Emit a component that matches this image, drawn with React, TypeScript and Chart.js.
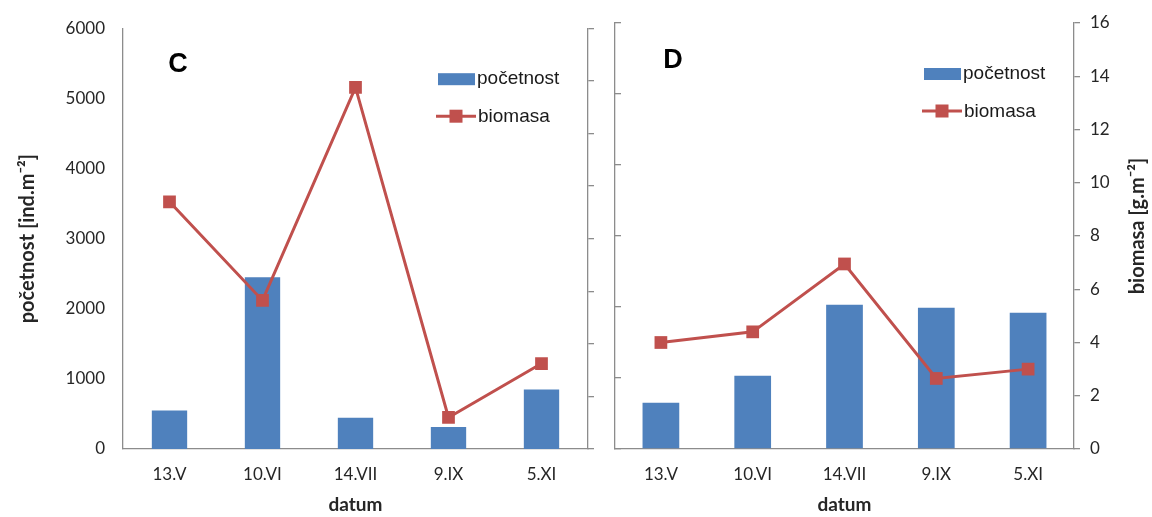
import React, { useEffect, useRef } from 'react';
import { Chart, registerables } from 'chart.js';

Chart.register(...registerables);

// ---------- data ----------
const categories = ['13.V', '10.VI', '14.VII', '9.IX', '5.XI'];
const abundanceC = [550, 2450, 445, 315, 850];
const biomassC = [9.4, 5.65, 13.75, 1.2, 3.25];
const abundanceD = [650, 1030, 2030, 1990, 1920];
const biomassD = [4.0, 4.4, 6.95, 2.65, 3.0];
const abundanceAxis = [0, 6000, 1000]; // min, max, step
const biomassAxis = [0, 16, 2]; // min, max, step
const seriesNames = ['početnost', 'biomasa'];
const panelLetters = ['C', 'D'];
const xTitle = 'datum';
const leftTitle = 'početnost [ind.m⁻²]';
const rightTitle = 'biomasa [g.m⁻²]';

// ---------- style ----------
const W = 1152;
const H = 517;
const BLUE = '#4F81BD';
const RED = '#C0504D';
const AXIS = '#8c8c8c';
const TEXT = '#262626';
const TICK_FONT = { family: 'Lato, "Open Sans", sans-serif', size: 17 };
const BOLD_FONT = { family: 'Lato, "Open Sans", sans-serif', size: 19, weight: 'bold' as const };

const overlayPlugin = {
  id: 'overlay',
  afterDraw(chart: any, _args: any, opts: any) {
    const { ctx, chartArea: ca } = chart;
    ctx.save();
    // panel letter
    ctx.fillStyle = '#000';
    ctx.font = `bold ${opts.letterSize}px "Liberation Sans", Arial, sans-serif`;
    ctx.textAlign = 'center';
    ctx.textBaseline = 'middle';
    ctx.fillText(opts.letter, ca.left + opts.letterDx, opts.letterY);

    // legend
    const ds = chart.data.datasets;
    const bar = ds.find((d: any) => d.type === 'bar');
    const line = ds.find((d: any) => d.type === 'line');
    const rx = ca.right + opts.legendDx;
    const y1 = ca.top + 51;
    const y2 = ca.top + 88;
    ctx.fillStyle = bar.backgroundColor;
    ctx.fillRect(rx, y1 - 6, 37, 12);
    ctx.strokeStyle = line.borderColor;
    ctx.lineWidth = 3;
    ctx.beginPath();
    ctx.moveTo(rx - 2, y2);
    ctx.lineTo(rx + 38, y2);
    ctx.stroke();
    ctx.fillStyle = line.pointBackgroundColor;
    ctx.fillRect(rx + 18 - 6.5, y2 - 6.5, 13, 13);
    ctx.fillStyle = '#1a1a1a';
    ctx.font = '19px "Liberation Sans", Arial, sans-serif';
    ctx.textAlign = 'left';
    ctx.textBaseline = 'middle';
    ctx.fillText(bar.label, rx + 39, y1);
    ctx.fillText(line.label, rx + 40, y2 + 1);

    // right axis title (reads bottom-to-top)
    if (opts.rightTitle) {
      ctx.translate(chart.width - 14, opts.rightTitleY);
      ctx.rotate(-Math.PI / 2);
      ctx.fillStyle = TEXT;
      ctx.font = `bold 20px Lato, "Open Sans", sans-serif`;
      ctx.textAlign = 'center';
      ctx.textBaseline = 'middle';
      ctx.fillText(opts.rightTitle, 0, 0);
    }
    ctx.restore();
  },
};

type PanelCfg = {
  abundance: number[];
  biomass: number[];
  letter: string;
  letterDx: number;
  letterY: number;
  barPct: number;
  leftW: number;
  rightW: number;
  leftLabels: boolean;
  leftTick: number;
  rightLabels: boolean;
  showLeftTitle: boolean;
  showRightTitle: boolean;
};

const plainNumber = (v: any) => String(v);

function makeConfig(p: PanelCfg): any {
  return {
    type: 'bar',
    data: {
      labels: categories,
      datasets: [
        {
          type: 'line',
          label: seriesNames[1],
          data: p.biomass,
          yAxisID: 'y1',
          borderColor: RED,
          backgroundColor: RED,
          borderWidth: 3,
          pointStyle: 'rect',
          pointRadius: 9,
          pointHoverRadius: 9,
          pointBackgroundColor: RED,
          pointBorderColor: RED,
          pointBorderWidth: 0,
          tension: 0,
          order: 0,
        },
        {
          type: 'bar',
          label: seriesNames[0],
          data: p.abundance,
          yAxisID: 'y',
          backgroundColor: BLUE,
          borderWidth: 0,
          barPercentage: p.barPct,
          categoryPercentage: 1,
          order: 1,
        },
      ],
    },
    options: {
      responsive: false,
      animation: false,
      devicePixelRatio: 1,
      layout: { padding: { top: 23, left: 0, right: 0, bottom: 0 } },
      plugins: {
        legend: { display: false },
        tooltip: { enabled: false },
        overlay: {
          letter: p.letter,
          letterDx: p.letterDx,
          letterY: p.letterY,
          letterSize: 27,
          legendDx: -150,
          rightTitle: p.showRightTitle ? rightTitle : null,
          rightTitleY: 226,
        },
      },
      scales: {
        x: {
          type: 'category',
          offset: true,
          grid: { display: false },
          border: { display: true, color: AXIS, width: 1.3 },
          ticks: { color: TEXT, font: TICK_FONT, padding: 7 },
          title: {
            display: true,
            text: xTitle,
            color: TEXT,
            font: BOLD_FONT,
            padding: { top: 0, bottom: 1 },
          },
          afterFit: (s: any) => {
            s.height = 68;
          },
        },
        y: {
          type: 'linear',
          position: 'left',
          min: abundanceAxis[0],
          max: abundanceAxis[1],
          ticks: {
            stepSize: abundanceAxis[2],
            display: p.leftLabels,
            color: TEXT,
            font: TICK_FONT,
            padding: 18,
            callback: plainNumber,
          },
          grid: {
            display: p.leftTick !== 0,
            drawOnChartArea: false,
            drawTicks: true,
            tickLength: p.leftTick,
            color: AXIS,
            lineWidth: 1.3,
          },
          border: { display: true, color: AXIS, width: 1.3 },
          title: {
            display: p.showLeftTitle,
            text: leftTitle,
            color: TEXT,
            font: { ...BOLD_FONT, size: 20 },
            padding: { top: 16, bottom: 0 },
          },
          afterFit: (s: any) => {
            s.width = p.leftW;
          },
        },
        y1: {
          type: 'linear',
          position: 'right',
          min: biomassAxis[0],
          max: biomassAxis[1],
          ticks: {
            stepSize: biomassAxis[2],
            display: p.rightLabels,
            color: TEXT,
            font: TICK_FONT,
            padding: 10,
            callback: plainNumber,
          },
          grid: {
            display: true,
            drawOnChartArea: false,
            drawTicks: true,
            tickLength: 6,
            color: AXIS,
            lineWidth: 1.3,
          },
          border: { display: true, color: AXIS, width: 1.3 },
          afterFit: (s: any) => {
            s.width = p.rightW;
          },
        },
      },
    },
    plugins: [overlayPlugin],
  };
}

const panelC: PanelCfg = {
  abundance: abundanceC,
  biomass: biomassC,
  letter: panelLetters[0],
  letterDx: 55,
  letterY: 65,
  barPct: 0.38,
  leftW: 123,
  rightW: 12,
  leftLabels: true,
  leftTick: 0,
  rightLabels: false,
  showLeftTitle: true,
  showRightTitle: false,
};

const panelD: PanelCfg = {
  abundance: abundanceD,
  biomass: biomassD,
  letter: panelLetters[1],
  letterDx: 58,
  letterY: 61,
  barPct: 0.4,
  leftW: 15,
  rightW: 78,
  leftLabels: false,
  leftTick: -6,
  rightLabels: true,
  showLeftTitle: false,
  showRightTitle: true,
};

function Panel({ cfg, left, width }: { cfg: PanelCfg; left: number; width: number }) {
  const ref = useRef<HTMLCanvasElement>(null);
  useEffect(() => {
    const chart = new Chart(ref.current as HTMLCanvasElement, makeConfig(cfg));
    return () => chart.destroy();
  }, [cfg]);
  return (
    <canvas
      ref={ref}
      width={width}
      height={H}
      style={{ position: 'absolute', left, top: 0, width, height: H, display: 'block' }}
    />
  );
}

export default function App() {
  return (
    <div
      style={{
        position: 'absolute',
        left: 0,
        top: 0,
        width: W,
        height: H,
        background: '#fff',
        overflow: 'hidden',
      }}
    >
      <Panel cfg={panelC} left={0} width={600} />
      <Panel cfg={panelD} left={600} width={552} />
    </div>
  );
}
